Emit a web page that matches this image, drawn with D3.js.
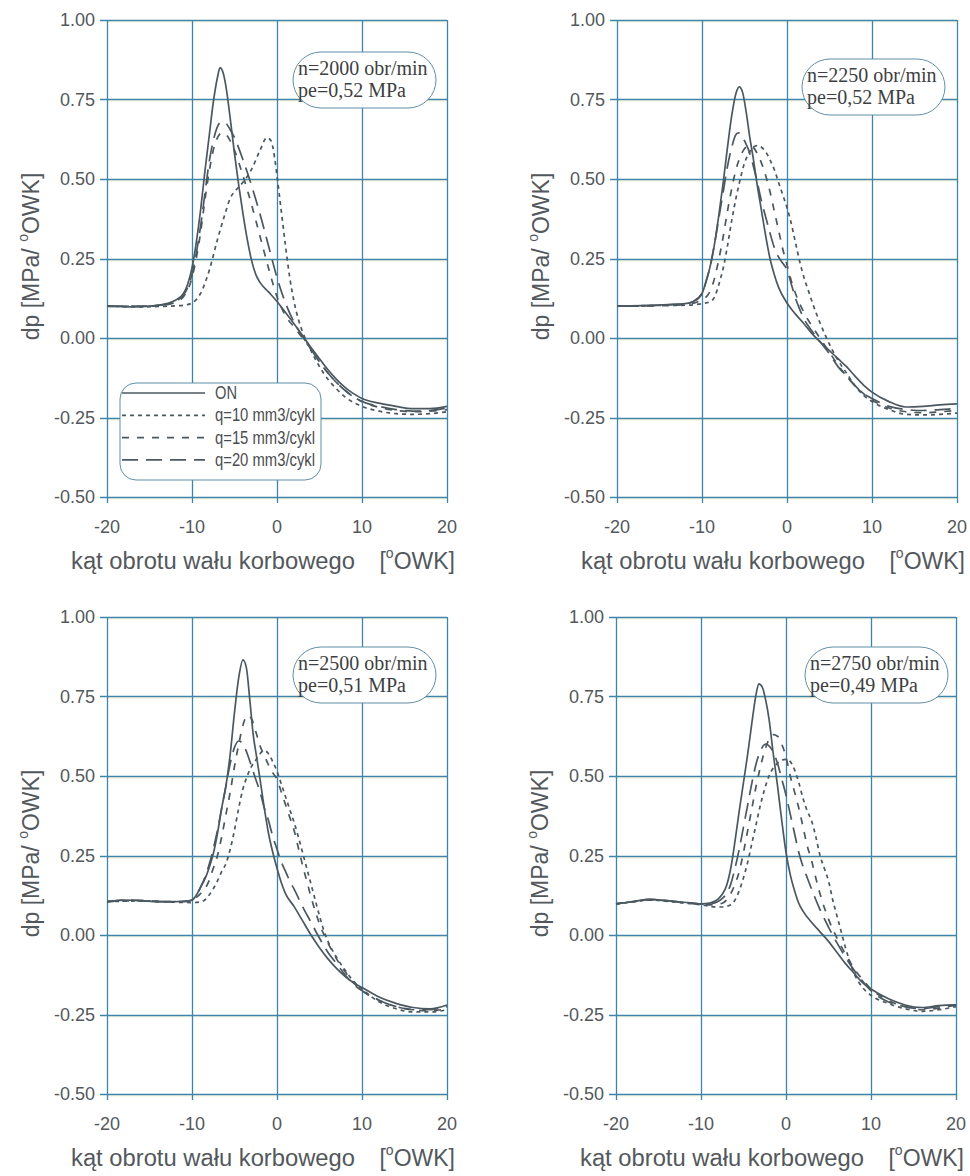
<!DOCTYPE html>
<html>
<head>
<meta charset="utf-8">
<script src="https://cdn.jsdelivr.net/npm/d3@7"></script>
<style>
  body { margin: 0; background: #fff; }
  svg { display: block; }
</style>
</head>
<body>
<svg id="chart" width="970" height="1176"></svg>
<script>
// ---- axis ticks and labels ----
const xTicks = [-20, -10, 0, 10, 20];
const yTicks = [1.00, 0.75, 0.50, 0.25, 0.00, -0.25, -0.50];
const seriesNames = ["ON", "q=10 mm3/cykl", "q=15 mm3/cykl", "q=20 mm3/cykl"];
const speedLabels = ["n=2000 obr/min", "n=2250 obr/min", "n=2500 obr/min", "n=2750 obr/min"];
const loadLabels = ["pe=0,52 MPa", "pe=0,52 MPa", "pe=0,51 MPa", "pe=0,49 MPa"];

// ---- heat release rate dp [MPa/°OWK] vs crank angle [°OWK] ----
// n = 2000 obr/min
const on2000 = [[-20,0.100],[-17,0.098],[-15,0.100],[-13,0.108],[-12,0.118],[-11,0.140],[-10.5,0.17],[-10,0.22],[-9.5,0.30],[-9,0.40],[-8.5,0.52],[-8,0.63],[-7.5,0.74],[-7,0.82],[-6.7,0.85],[-6.3,0.83],[-6,0.79],[-5.5,0.69],[-5,0.58],[-4.5,0.48],[-4,0.39],[-3.5,0.31],[-3,0.245],[-2.5,0.20],[-2,0.175],[-1,0.145],[0,0.115],[1,0.08],[2,0.045],[3,0.008],[4,-0.03],[5,-0.065],[6,-0.10],[7,-0.13],[8,-0.155],[9,-0.175],[10,-0.19],[12,-0.205],[14,-0.215],[16,-0.222],[18,-0.222],[20,-0.215]];
const q10_2000 = [[-20,0.100],[-16,0.098],[-13,0.100],[-11,0.103],[-10,0.11],[-9,0.14],[-8,0.21],[-7,0.31],[-6,0.40],[-5.5,0.44],[-5,0.46],[-4.5,0.475],[-4,0.49],[-3,0.53],[-2,0.59],[-1.2,0.63],[-0.7,0.62],[-0.3,0.57],[0,0.51],[0.5,0.40],[1,0.29],[1.5,0.19],[2,0.115],[2.5,0.06],[3,0.02],[4,-0.04],[5,-0.09],[6,-0.13],[7,-0.16],[8,-0.185],[10,-0.215],[12,-0.23],[14,-0.238],[16,-0.24],[18,-0.238],[20,-0.232]];
const q15_2000 = [[-20,0.100],[-16,0.099],[-13,0.105],[-12,0.112],[-11,0.13],[-10,0.19],[-9,0.33],[-8.5,0.43],[-8,0.52],[-7.5,0.59],[-7,0.63],[-6.5,0.645],[-6,0.64],[-5.5,0.62],[-5,0.59],[-4,0.51],[-3,0.42],[-2,0.32],[-1,0.22],[0,0.13],[1,0.07],[2,0.035],[3,0.0],[4,-0.035],[5,-0.075],[6,-0.11],[7,-0.14],[8,-0.165],[10,-0.2],[12,-0.218],[14,-0.228],[16,-0.232],[18,-0.23],[20,-0.225]];
const q20_2000 = [[-20,0.100],[-16,0.100],[-13,0.106],[-12,0.115],[-11,0.135],[-10,0.20],[-9,0.35],[-8.5,0.45],[-8,0.55],[-7.5,0.62],[-7,0.665],[-6.5,0.68],[-6,0.675],[-5.5,0.655],[-5,0.63],[-4,0.56],[-3,0.48],[-2,0.39],[-1,0.29],[0,0.19],[1,0.11],[2,0.05],[3,0.005],[4,-0.035],[5,-0.075],[6,-0.11],[7,-0.14],[8,-0.165],[10,-0.2],[12,-0.215],[14,-0.225],[16,-0.23],[18,-0.228],[20,-0.22]];

// n = 2250 obr/min
const on2250 = [[-20,0.100],[-17,0.102],[-14,0.105],[-12,0.108],[-11,0.115],[-10,0.14],[-9.5,0.18],[-9,0.23],[-8.5,0.30],[-8,0.39],[-7.5,0.49],[-7,0.60],[-6.5,0.70],[-6,0.77],[-5.6,0.79],[-5.2,0.77],[-4.8,0.71],[-4.4,0.635],[-4,0.57],[-3.5,0.48],[-3,0.40],[-2.5,0.32],[-2,0.25],[-1.5,0.20],[-1,0.16],[0,0.11],[1,0.075],[2,0.045],[3,0.012],[4,-0.015],[5,-0.04],[6,-0.065],[7,-0.09],[8,-0.12],[9,-0.148],[10,-0.17],[12,-0.2],[14,-0.217],[16,-0.215],[18,-0.21],[20,-0.207]];
const q10_2250 = [[-20,0.100],[-16,0.102],[-12,0.103],[-10,0.108],[-9,0.115],[-8.5,0.13],[-8,0.17],[-7.5,0.22],[-7,0.29],[-6.5,0.37],[-6,0.44],[-5.5,0.50],[-5,0.55],[-4.5,0.58],[-4,0.60],[-3.5,0.605],[-3,0.60],[-2.5,0.585],[-2,0.56],[-1.5,0.53],[-1,0.49],[-0.5,0.45],[0,0.41],[0.5,0.36],[1,0.30],[1.5,0.24],[2,0.19],[2.5,0.15],[3,0.11],[4,0.04],[5,-0.02],[6,-0.07],[7,-0.11],[8,-0.15],[9,-0.18],[10,-0.20],[12,-0.225],[14,-0.24],[16,-0.242],[18,-0.24],[20,-0.236]];
const q15_2250 = [[-20,0.100],[-16,0.101],[-12,0.105],[-10,0.12],[-9,0.15],[-8.5,0.19],[-8,0.25],[-7.5,0.32],[-7,0.40],[-6.5,0.47],[-6,0.53],[-5.5,0.57],[-5,0.595],[-4.5,0.605],[-4,0.60],[-3.5,0.58],[-3,0.55],[-2.5,0.51],[-2,0.46],[-1.5,0.40],[-1,0.34],[-0.5,0.28],[0,0.23],[0.5,0.18],[1,0.14],[2,0.08],[3,0.035],[4,-0.005],[5,-0.045],[6,-0.085],[7,-0.12],[8,-0.15],[9,-0.175],[10,-0.195],[12,-0.22],[14,-0.232],[16,-0.235],[18,-0.232],[20,-0.228]];
const q20_2250 = [[-20,0.100],[-17,0.101],[-14,0.104],[-12,0.108],[-11,0.115],[-10,0.14],[-9.5,0.18],[-9,0.23],[-8.5,0.30],[-8,0.38],[-7.5,0.46],[-7,0.54],[-6.5,0.60],[-6,0.64],[-5.7,0.645],[-5.3,0.635],[-5,0.62],[-4.5,0.59],[-4,0.545],[-3.5,0.49],[-3,0.43],[-2.5,0.38],[-2,0.33],[-1.5,0.285],[-1,0.255],[-0.5,0.235],[0,0.215],[0.5,0.17],[1,0.125],[1.5,0.09],[2,0.06],[3,0.02],[4,-0.015],[5,-0.05],[6,-0.09],[7,-0.12],[8,-0.15],[9,-0.175],[10,-0.19],[12,-0.215],[14,-0.225],[16,-0.228],[18,-0.225],[20,-0.222]];

// n = 2500 obr/min
const on2500 = [[-20,0.105],[-18,0.11],[-16,0.108],[-14,0.105],[-12,0.105],[-10.5,0.107],[-10,0.11],[-9.5,0.125],[-9,0.15],[-8.5,0.175],[-8,0.21],[-7.5,0.255],[-7,0.32],[-6.5,0.40],[-6,0.47],[-5.5,0.57],[-5,0.70],[-4.5,0.81],[-4,0.865],[-3.6,0.84],[-3.2,0.74],[-2.8,0.63],[-2.4,0.56],[-2,0.49],[-1.5,0.40],[-1,0.32],[-0.5,0.26],[0,0.21],[0.5,0.165],[1,0.13],[2,0.09],[3,0.045],[4,0.0],[5,-0.04],[6,-0.075],[7,-0.105],[8,-0.13],[9,-0.15],[10,-0.165],[12,-0.195],[14,-0.215],[16,-0.228],[18,-0.232],[20,-0.22]];
const q10_2500 = [[-20,0.105],[-16,0.107],[-12,0.103],[-10,0.102],[-9,0.104],[-8.5,0.11],[-8,0.125],[-7.5,0.145],[-7,0.17],[-6.5,0.20],[-6,0.225],[-5.5,0.27],[-5,0.33],[-4.5,0.40],[-4,0.46],[-3.5,0.50],[-3,0.53],[-2.5,0.55],[-2,0.57],[-1.5,0.58],[-1,0.57],[-0.5,0.545],[0,0.515],[0.5,0.475],[1,0.435],[1.5,0.395],[2,0.355],[2.5,0.31],[3,0.26],[3.5,0.21],[4,0.16],[4.5,0.11],[5,0.06],[5.5,0.015],[6,-0.02],[7,-0.07],[8,-0.11],[9,-0.145],[10,-0.17],[12,-0.21],[14,-0.232],[16,-0.242],[18,-0.242],[20,-0.235]];
const q15_2500 = [[-20,0.105],[-16,0.108],[-12,0.104],[-10.5,0.106],[-10,0.11],[-9,0.13],[-8,0.17],[-7.5,0.21],[-7,0.25],[-6.5,0.31],[-6,0.38],[-5.5,0.45],[-5,0.53],[-4.5,0.60],[-4,0.66],[-3.5,0.69],[-3,0.68],[-2.5,0.64],[-2,0.595],[-1.5,0.565],[-1,0.535],[-0.5,0.51],[0,0.49],[0.5,0.45],[1,0.41],[1.5,0.37],[2,0.33],[2.5,0.275],[3,0.22],[3.5,0.17],[4,0.12],[4.5,0.075],[5,0.035],[6,-0.025],[7,-0.075],[8,-0.115],[9,-0.15],[10,-0.175],[12,-0.205],[14,-0.225],[16,-0.235],[18,-0.238],[20,-0.232]];
const q20_2500 = [[-20,0.105],[-18,0.11],[-16,0.108],[-14,0.105],[-12,0.105],[-10.5,0.107],[-10,0.11],[-9.5,0.125],[-9,0.15],[-8.5,0.18],[-8,0.22],[-7.5,0.27],[-7,0.33],[-6.5,0.40],[-6,0.47],[-5.5,0.54],[-5,0.59],[-4.5,0.61],[-4,0.60],[-3.5,0.57],[-3,0.53],[-2.5,0.49],[-2,0.45],[-1.5,0.40],[-1,0.36],[-0.5,0.31],[0,0.27],[0.5,0.23],[1,0.20],[1.5,0.17],[2,0.145],[3,0.09],[4,0.04],[5,-0.01],[6,-0.055],[7,-0.09],[8,-0.125],[9,-0.155],[10,-0.175],[12,-0.205],[14,-0.225],[16,-0.235],[18,-0.235],[20,-0.225]];

// n = 2750 obr/min
const on2750 = [[-20,0.098],[-18,0.105],[-16,0.112],[-14,0.108],[-12,0.103],[-10,0.098],[-9,0.10],[-8.5,0.105],[-8,0.113],[-7.5,0.128],[-7,0.155],[-6.5,0.21],[-6,0.295],[-5.5,0.39],[-5,0.48],[-4.5,0.57],[-4,0.67],[-3.5,0.76],[-3.2,0.79],[-2.8,0.78],[-2.4,0.74],[-2,0.68],[-1.5,0.57],[-1,0.47],[-0.5,0.36],[0,0.26],[0.5,0.19],[1,0.14],[1.5,0.10],[2,0.075],[3,0.04],[4,0.01],[5,-0.02],[6,-0.055],[7,-0.09],[8,-0.12],[9,-0.15],[10,-0.17],[12,-0.2],[14,-0.22],[16,-0.228],[18,-0.222],[20,-0.22]];
const q10_2750 = [[-20,0.098],[-18,0.104],[-16,0.11],[-14,0.106],[-12,0.10],[-10,0.095],[-9,0.09],[-8,0.088],[-7.5,0.088],[-7,0.09],[-6.5,0.095],[-6,0.11],[-5.5,0.14],[-5,0.18],[-4.5,0.23],[-4,0.29],[-3.5,0.35],[-3,0.41],[-2.5,0.46],[-2,0.50],[-1.5,0.525],[-1,0.54],[-0.5,0.55],[0,0.552],[0.5,0.545],[1,0.52],[1.5,0.48],[2,0.43],[2.5,0.39],[3,0.36],[3.5,0.31],[4,0.25],[4.5,0.21],[5,0.17],[5.5,0.11],[6,0.06],[6.5,0.01],[7,-0.04],[8,-0.12],[9,-0.165],[10,-0.19],[12,-0.215],[14,-0.232],[16,-0.24],[18,-0.235],[20,-0.225]];
const q15_2750 = [[-20,0.098],[-18,0.105],[-16,0.11],[-14,0.107],[-12,0.102],[-10,0.097],[-9,0.095],[-8,0.098],[-7.5,0.10],[-7,0.11],[-6.5,0.13],[-6,0.16],[-5.5,0.20],[-5,0.26],[-4.5,0.33],[-4,0.40],[-3.5,0.47],[-3,0.53],[-2.5,0.58],[-2,0.615],[-1.5,0.63],[-1,0.625],[-0.5,0.60],[0,0.56],[0.5,0.50],[1,0.45],[1.5,0.40],[2,0.34],[2.5,0.28],[3,0.235],[3.5,0.18],[4,0.13],[5,0.05],[6,-0.01],[7,-0.06],[8,-0.105],[9,-0.14],[10,-0.17],[12,-0.205],[14,-0.225],[16,-0.235],[18,-0.23],[20,-0.22]];
const q20_2750 = [[-20,0.098],[-18,0.105],[-16,0.112],[-14,0.108],[-12,0.103],[-10,0.098],[-9,0.098],[-8,0.105],[-7.5,0.115],[-7,0.13],[-6.5,0.16],[-6,0.21],[-5.5,0.27],[-5,0.34],[-4.5,0.41],[-4,0.48],[-3.5,0.54],[-3,0.58],[-2.4,0.60],[-2,0.595],[-1.5,0.575],[-1,0.54],[-0.5,0.49],[0,0.44],[0.5,0.38],[1,0.32],[1.5,0.26],[2,0.215],[2.5,0.18],[3,0.145],[4,0.08],[5,0.025],[6,-0.025],[7,-0.07],[8,-0.11],[9,-0.145],[10,-0.175],[12,-0.21],[14,-0.225],[16,-0.232],[18,-0.225],[20,-0.22]];

// one row per panel, series in legend order
const panelSeries = [
  [on2000, q10_2000, q15_2000, q20_2000],
  [on2250, q10_2250, q15_2250, q20_2250],
  [on2500, q10_2500, q15_2500, q20_2500],
  [on2750, q10_2750, q15_2750, q20_2750]
];

// ---- layout ----
const plotW = 340, plotH = 477;
const panelPos = [
  { left: 107, top: 20 },
  { left: 617, top: 20 },
  { left: 107, top: 617 },
  { left: 616, top: 617 }
];
// annotation box offsets inside each plot
const boxPos = [
  { x: 186, y: 32 },
  { x: 185, y: 39 },
  { x: 186, y: 30 },
  { x: 189, y: 30 }
];
const boxW = 143, boxH = 56;

const dashStyles = [null, "4,4", "7,8", "16,8"];
const curveColor = "#4b5860";
const gridColor = "#3f85ab";
const textColor = "#53585c";

const svg = d3.select("#chart");
const line = d3.line().curve(d3.curveMonotoneX);
const tickFmt = v => v.toFixed(2);

panelPos.forEach((pos, i) => {
  const g = svg.append("g").attr("transform", `translate(${pos.left},${pos.top})`);
  const x = d3.scaleLinear().domain([-20, 20]).range([0, plotW]);
  const y = d3.scaleLinear().domain([-0.5, 1.0]).range([plotH, 0]);

  // grid
  const grid = g.append("g");
  yTicks.forEach(t => {
    const yy = Math.round(y(t)) + 0.5;
    grid.append("line")
      .attr("x1", 0).attr("x2", plotW)
      .attr("y1", yy + 1.5).attr("y2", yy + 1.5)
      .attr("stroke", "#e6dc7a").attr("stroke-width", 1).attr("opacity", 0.35);
    grid.append("line")
      .attr("x1", -7).attr("x2", plotW)
      .attr("y1", yy).attr("y2", yy)
      .attr("stroke", gridColor).attr("stroke-width", 1.3);
  });
  xTicks.forEach(t => {
    const xx = Math.round(x(t)) + 0.5;
    grid.append("line")
      .attr("x1", xx).attr("x2", xx)
      .attr("y1", 0).attr("y2", plotH + 6)
      .attr("stroke", gridColor).attr("stroke-width", 1.3);
  });

  // tick labels
  const ax = g.append("g")
    .attr("font-family", "'Liberation Sans', Arial, sans-serif")
    .attr("font-size", 18).attr("fill", textColor);
  yTicks.forEach(t => {
    ax.append("text")
      .attr("x", -12).attr("y", y(t)).attr("dy", "0.36em")
      .attr("text-anchor", "end")
      .text(tickFmt(t));
  });
  xTicks.forEach(t => {
    ax.append("text")
      .attr("x", x(t)).attr("y", plotH + 36)
      .attr("text-anchor", "middle")
      .text(t);
  });

  // axis titles
  const titles = g.append("g")
    .attr("font-family", "'Liberation Sans', Arial, sans-serif")
    .attr("font-size", 23).attr("fill", textColor);
  titles.append("text")
    .attr("x", -36).attr("y", plotH + 72)
    .attr("textLength", 284).attr("lengthAdjust", "spacingAndGlyphs")
    .text("kąt obrotu wału korbowego");
  const unit = titles.append("text")
    .attr("x", plotW + 8).attr("y", plotH + 72)
    .attr("text-anchor", "end");
  unit.append("tspan").text("[");
  unit.append("tspan").attr("font-size", 14).attr("dy", -11).text("o");
  unit.append("tspan").attr("dy", 11).text("OWK]");

  const ytitle = titles.append("text")
    .attr("transform", `translate(${-68},${plotH * 0.5 - 2}) rotate(-90)`)
    .attr("text-anchor", "middle");
  ytitle.append("tspan").text("dp  [MPa/ ");
  ytitle.append("tspan").attr("font-size", 14).attr("dy", -11).text("o");
  ytitle.append("tspan").attr("dy", 11).text("OWK]");

  // curves
  panelSeries[i].forEach((pts, k) => {
    g.append("path")
      .attr("d", line(pts.map(p => [x(p[0]), y(p[1])])))
      .attr("fill", "none")
      .attr("stroke", curveColor)
      .attr("stroke-width", 1.7)
      .attr("stroke-dasharray", dashStyles[k]);
  });

  // operating point box
  const b = boxPos[i];
  const box = g.append("g").attr("transform", `translate(${b.x},${b.y})`);
  box.append("rect")
    .attr("width", boxW).attr("height", boxH)
    .attr("rx", boxH / 2).attr("ry", boxH / 2)
    .attr("fill", "#fff").attr("stroke", "#5f8fa8").attr("stroke-width", 1);
  box.append("text")
    .attr("x", 5).attr("y", 23)
    .attr("font-family", "'Liberation Serif', 'Times New Roman', serif")
    .attr("font-size", 20).attr("fill", "#3d3f42")
    .text(speedLabels[i]);
  box.append("text")
    .attr("x", 5).attr("y", 45)
    .attr("font-family", "'Liberation Serif', 'Times New Roman', serif")
    .attr("font-size", 20).attr("fill", "#3d3f42")
    .text(loadLabels[i]);

  // legend (first panel only)
  if (i === 0) {
    const lg = g.append("g").attr("transform", "translate(13,363)");
    lg.append("rect")
      .attr("width", 201).attr("height", 97)
      .attr("rx", 16).attr("ry", 16)
      .attr("fill", "#fff").attr("stroke", "#5f8fa8").attr("stroke-width", 1);
    seriesNames.forEach((name, k) => {
      const ry = 10 + k * 22.3;
      lg.append("line")
        .attr("x1", 2).attr("x2", 85)
        .attr("y1", ry).attr("y2", ry)
        .attr("stroke", curveColor).attr("stroke-width", 1.7)
        .attr("stroke-dasharray", dashStyles[k]);
      const t = lg.append("text")
        .attr("x", 95).attr("y", ry + 6)
        .attr("font-family", "'Liberation Sans', Arial, sans-serif")
        .attr("font-size", 18).attr("fill", "#4a4d50")
        .text(name);
      t.attr("textLength", k > 0 ? 100 : 22).attr("lengthAdjust", "spacingAndGlyphs");
    });
  }
});
</script>
</body>
</html>
